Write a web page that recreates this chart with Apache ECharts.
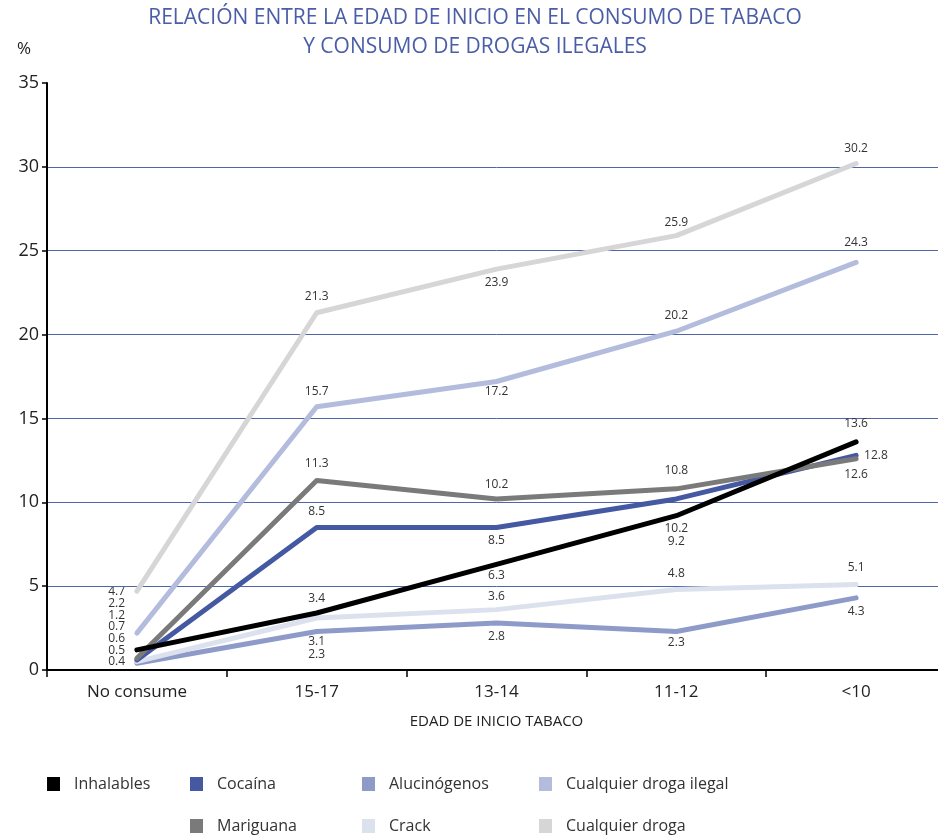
<!DOCTYPE html>
<html>
<head>
<meta charset="utf-8">
<style>
  html, body { margin: 0; padding: 0; background: #fff; overflow: hidden; }
  #chart { width: 946px; height: 839px; }
</style>
<script src="https://cdn.jsdelivr.net/npm/echarts@6/dist/echarts.min.js"></script>
</head>
<body>
<div id="chart"></div>
<script>
// Categories: age at which tobacco use began
const categories = ['No consume', '15-17', '13-14', '11-12', '<10'];

// Percentage using each substance
const inhalables      = [1.2, 3.4, 6.3, 9.2, 13.6];
const cocaina         = [0.6, 8.5, 8.5, 10.2, 12.8];
const alucinogenos    = [0.4, 2.3, 2.8, 2.3, 4.3];
const drogaIlegal     = [2.2, 15.7, 17.2, 20.2, 24.3];
const mariguana       = [0.7, 11.3, 10.2, 10.8, 12.6];
const crack           = [0.5, 3.1, 3.6, 4.8, 5.1];
const cualquierDroga  = [4.7, 21.3, 23.9, 25.9, 30.2];

const yTicks = [0, 5, 10, 15, 20, 25, 30, 35];

const FONT = 'Open Sans';
const GRID_BLUE = '#5064aa';

// Series styling and label placement per point: [position, distance]
const seriesDefs = [
  { name: 'Inhalables', data: inhalables, color: '#000000', z: 9,
    place: [null, ['top', 8], ['bottom', 5], ['bottom', 20], ['top', 12]] },
  { name: 'Cocaína', data: cocaina, color: '#4459a1', z: 7,
    place: [null, ['top', 10], ['bottom', 7], ['bottom', 24], ['right', 8]] },
  { name: 'Alucinógenos', data: alucinogenos, color: '#8e9bc9', z: 4,
    place: [null, ['bottom', 17], ['bottom', 8], ['bottom', 5], ['bottom', 8]] },
  { name: 'Cualquier droga ilegal', data: drogaIlegal, color: '#b3bcdd', z: 3,
    place: [null, ['top', 9], ['bottom', 4], ['top', 10], ['top', 14]] },
  { name: 'Mariguana', data: mariguana, color: '#7a7a7a', z: 8,
    place: [null, ['top', 11], ['top', 8], ['top', 12], ['bottom', 10]] },
  { name: 'Crack', data: crack, color: '#dce1ee', z: 5,
    place: [null, ['bottom', 18], ['top', 7], ['top', 10], ['top', 11]] },
  { name: 'Cualquier droga', data: cualquierDroga, color: '#d6d6d6', z: 2,
    place: [null, ['top', 10], ['bottom', 7], ['top', 7], ['top', 9]] }
];

const series = seriesDefs.map(def => ({
  name: def.name,
  type: 'line',
  z: def.z,
  symbol: 'circle',
  symbolSize: 0,
  showSymbol: true,
  lineStyle: { width: 5, color: def.color, cap: 'round', join: 'round' },
  itemStyle: { color: def.color },
  emphasis: { disabled: true },
  data: def.data.map((v, i) => {
    const p = def.place[i];
    return {
      value: v,
      label: p ? { show: true, position: p[0], distance: p[1] } : { show: false }
    };
  }),
  label: {
    fontFamily: FONT, fontSize: 12, color: '#333'
  }
}));

// Column of "No consume" values, listed from highest to lowest
const firstValues = seriesDefs.map(d => d.data[0]).sort((a, b) => b - a);

// Legend: one component per entry so columns line up
const legendSlots = [
  ['Inhalables', 47, 776],
  ['Cocaína', 190, 776],
  ['Alucinógenos', 362, 776],
  ['Cualquier droga ilegal', 539, 776],
  ['Mariguana', 190, 818],
  ['Crack', 362, 818],
  ['Cualquier droga', 539, 818]
];
const legends = legendSlots.map(([name, x, y]) => ({
  data: [name],
  left: x,
  top: y,
  padding: 0,
  orient: 'horizontal',
  icon: 'rect',
  itemWidth: 13,
  itemHeight: 14,
  selectedMode: false,
  textStyle: { fontFamily: FONT, fontSize: 16, color: '#333', padding: [0, 0, 0, 9] }
}));

const chart = echarts.init(document.getElementById('chart'), null, { renderer: 'canvas' });

chart.setOption({
  animation: false,
  backgroundColor: '#ffffff',
  title: [
    {
      text: 'RELACIÓN ENTRE LA EDAD DE INICIO EN EL CONSUMO DE TABACO\nY CONSUMO DE DROGAS ILEGALES',
      left: 475, top: 4, padding: 0, textAlign: 'center',
      textStyle: { fontFamily: FONT, fontSize: 21, fontWeight: 'normal', color: '#4a5da7', lineHeight: 29 }
    },
    {
      text: '%',
      left: 12, top: 36,
      textStyle: { fontFamily: FONT, fontSize: 17, fontWeight: 'normal', color: '#222' }
    }
  ],
  legend: legends,
  grid: { left: 47, right: 0, top: 83, bottom: 169, containLabel: false },
  xAxis: {
    type: 'category',
    data: categories,
    boundaryGap: true,
    name: 'EDAD DE INICIO TABACO',
    nameLocation: 'middle',
    nameGap: 44,
    nameTextStyle: { fontFamily: FONT, fontSize: 15, color: '#222' },
    axisLine: { show: true, lineStyle: { color: '#000', width: 2 } },
    axisTick: { show: true, alignWithLabel: false, length: 7, lineStyle: { color: '#000', width: 1.5 } },
    axisLabel: { fontFamily: FONT, fontSize: 17, color: '#222', margin: 14 },
    splitLine: { show: false }
  },
  yAxis: {
    type: 'value',
    min: yTicks[0],
    max: yTicks[yTicks.length - 1],
    interval: 5,
    axisLine: { show: true, lineStyle: { color: '#000', width: 2 } },
    axisTick: { show: true, length: 5, lineStyle: { color: '#000', width: 1.5 } },
    axisLabel: { fontFamily: FONT, fontSize: 18, color: '#222', margin: 8 },
    splitLine: {
      show: true,
      lineStyle: {
        width: 1,
        color: yTicks.map(t => (t === 35 ? 'rgba(0,0,0,0)' : GRID_BLUE))
      }
    }
  },
  graphic: [
    {
      type: 'text',
      x: 125, y: 586,
      style: {
        text: firstValues.map(v => v.toFixed(1)).join('\n'),
        fontFamily: FONT, fontSize: 12, lineHeight: 11.7,
        fill: '#333', textAlign: 'right', textVerticalAlign: 'top'
      }
    }
  ],
  series: series
});
</script>
</body>
</html>
